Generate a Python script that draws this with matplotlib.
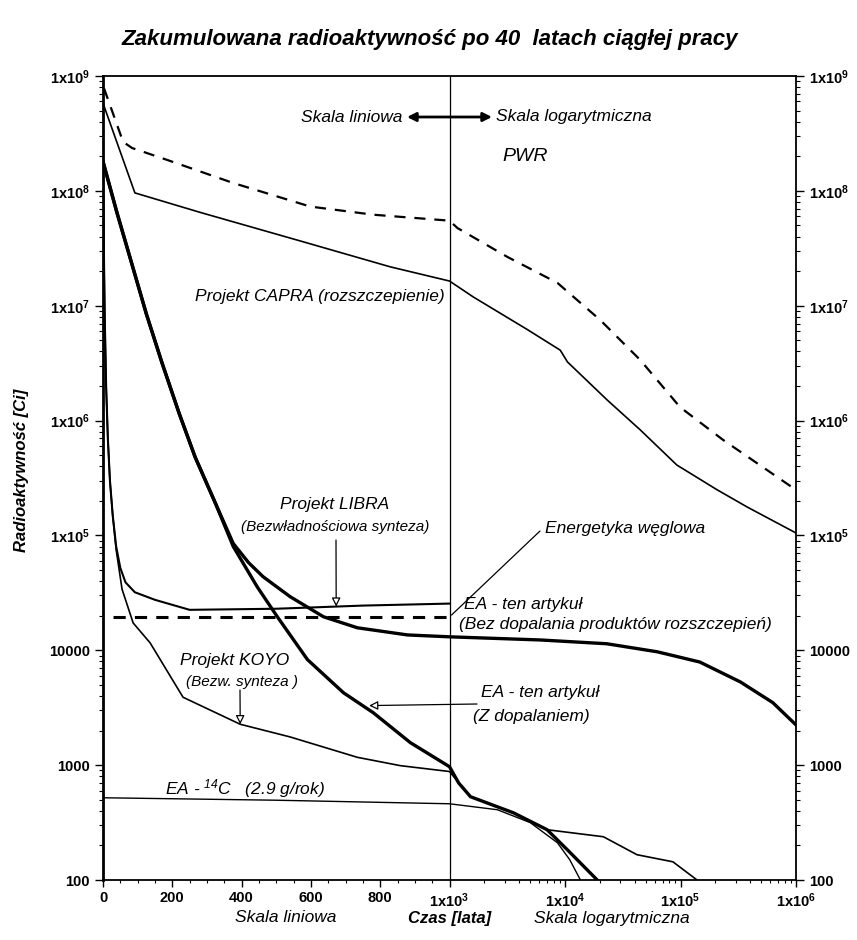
import numpy as np
import matplotlib
matplotlib.use("Agg")
import matplotlib.pyplot as plt
from matplotlib.ticker import FixedLocator, NullFormatter
from matplotlib import font_manager

plt.rcParams['font.family'] = ['Liberation Sans', 'DejaVu Sans']
plt.rcParams['mathtext.default'] = 'regular'

names = {f.name for f in font_manager.fontManager.ttflist}
NARROW = 'Liberation Sans Narrow' if 'Liberation Sans Narrow' in names else None

# ---------------- data ----------------
pwr_t = [3, 58, 84, 185, 376, 598, 780, 1000, 1170, 3170, 8600, 20200, 44800, 99000, 233000, 940000, 1000000]
pwr_v = [7.8e8, 2.67e8, 2.36e8, 1.86e8, 1.17e8, 7.3e7, 6.2e7, 5.5e7, 4.75e7, 2.66e7, 1.58e7, 7.5e6, 3.37e6, 1.31e6, 6.8e5, 2.6e5, 2.4e5]

capra_t = [0, 92, 280, 578, 829, 1000, 1610, 4720, 9100, 10500, 23200, 44800, 93000, 207000, 377000, 1000000]
capra_v = [5.8e8, 9.6e7, 6.5e7, 3.6e7, 2.18e7, 1.64e7, 1.19e7, 6.2e6, 4.1e6, 3.24e6, 1.51e6, 8.3e5, 4.1e5, 2.5e5, 1.77e5, 1.05e5]

ea_bez_t = [0, 40, 80, 125, 170, 220, 266, 324, 376, 420, 462, 540, 636, 734, 879, 1000, 6100, 23000, 63000, 147000, 330000, 630000, 1000000]
ea_bez_v = [1.8e8, 6.5e7, 2.5e7, 8.5e6, 3.2e6, 1.15e6, 4.8e5, 1.92e5, 8.5e4, 5.8e4, 4.37e4, 2.93e4, 1.96e4, 1.57e4, 1.36e4, 1.31e4, 1.23e4, 1.14e4, 9.7e3, 7.9e3, 5.3e3, 3.5e3, 2.24e3]

ea_z_t = [0, 40, 80, 125, 170, 220, 266, 324, 376, 445, 503, 590, 694, 780, 887, 1000, 1200, 1520, 3570, 7000, 11100, 19000]
ea_z_v = [1.8e8, 6.5e7, 2.5e7, 8.5e6, 3.2e6, 1.15e6, 4.8e5, 1.92e5, 8.0e4, 3.57e4, 1.96e4, 8.3e3, 4.27e3, 2.86e3, 1.57e3, 969, 700, 531, 385, 274, 173, 100]

libra_t = [0, 2, 5, 9, 14, 20, 28, 38, 50, 65, 92, 150, 250, 500, 750, 1000]
libra_v = [1.8e8, 4e7, 8e6, 2e6, 7e5, 3e5, 1.5e5, 8e4, 5.2e4, 3.9e4, 3.2e4, 2.75e4, 2.25e4, 2.3e4, 2.45e4, 2.55e4]

koyo_t = [0, 2, 5, 9, 14, 20, 28, 38, 55, 87, 136, 231, 396, 540, 734, 858, 1000, 1520, 3570, 7000, 21500, 42000, 86000, 139000]
koyo_v = [1.8e8, 4e7, 8e6, 2e6, 7e5, 3e5, 1.5e5, 7.5e4, 3.4e4, 1.73e4, 1.16e4, 3.9e3, 2.27e3, 1.76e3, 1.17e3, 990, 880, 531, 385, 274, 238, 166, 144, 100]

coal_t = [30, 1000]
coal_v = [1.95e4, 1.95e4]

c14_t = [0, 500, 1000, 2600, 5000, 8600, 11000, 13600]
c14_v = [520, 495, 461, 409, 316, 211, 150, 100]

ytick_vals = [1e2, 1e3, 1e4, 1e5, 1e6, 1e7, 1e8, 1e9]
ytick_labels = ['100', '1000', '10000', r'1x10$^{5}$', r'1x10$^{6}$', r'1x10$^{7}$', r'1x10$^{8}$', r'1x10$^{9}$']
xtick_vals = [0, 200, 400, 600, 800, 1000, 1e4, 1e5, 1e6]
xtick_labels = ['0', '200', '400', '600', '800', r'1x10$^{3}$', r'1x10$^{4}$', r'1x10$^{5}$', r'1x10$^{6}$']

# ---------------- combined linear / log scale ----------------
def fwd(x):
    x = np.asarray(x, dtype=float)
    with np.errstate(divide='ignore', invalid='ignore'):
        lg = 3.0 + np.log10(np.maximum(x, 1e-300) / 1000.0)
    return np.where(x <= 1000, 3.0 * x / 1000.0, lg)

def inv(u):
    u = np.asarray(u, dtype=float)
    return np.where(u <= 3, u * 1000.0 / 3.0, 1000.0 * 10 ** (np.minimum(u, 30) - 3.0))

W, H = 857, 940
fig = plt.figure(figsize=(W / 100, H / 100), dpi=100)
ax = fig.add_axes([103 / W, 1 - 880 / H, (796 - 103) / W, (880 - 76) / H])
ax.set_xscale('function', functions=(fwd, inv))
ax.set_yscale('log')
ax.set_xlim(0, 1e6)
ax.set_ylim(100, 1e9)

thin = 1.2
thick = 2.4
ax.plot(pwr_t, pwr_v, color='black', lw=1.6, dashes=(5, 4))
ax.plot(capra_t, capra_v, color='black', lw=thin)
ax.plot(ea_bez_t, ea_bez_v, color='black', lw=thick)
ax.plot(ea_z_t, ea_z_v, color='black', lw=thick)
ax.plot(libra_t, libra_v, color='black', lw=1.5)
ax.plot(koyo_t, koyo_v, color='black', lw=thin)
ax.plot(coal_t, coal_v, color='black', lw=2.2, dashes=(4, 3))
ax.plot(c14_t, c14_v, color='black', lw=1.0)

ax.axvline(1000, color='black', lw=0.9)

# ticks
ax.yaxis.set_major_locator(FixedLocator(ytick_vals))
ax.set_yticklabels(ytick_labels)
minor_y = [m * 10 ** e for e in range(2, 9) for m in range(2, 10)]
ax.yaxis.set_minor_locator(FixedLocator(minor_y))
ax.yaxis.set_minor_formatter(NullFormatter())
ax.xaxis.set_major_locator(FixedLocator(xtick_vals))
ax.set_xticklabels(xtick_labels)
minor_x = list(range(50, 1000, 50)) + [m * 10 ** e for e in range(3, 6) for m in range(2, 10)]
ax.xaxis.set_minor_locator(FixedLocator(minor_x))
ax.xaxis.set_minor_formatter(NullFormatter())

ax.tick_params(axis='y', which='both', left=True, right=True, labelleft=True, labelright=True,
               direction='out', labelsize=10.5)
ax.tick_params(axis='y', which='major', length=6, width=1)
ax.tick_params(axis='y', which='minor', length=3, width=0.8)
ax.tick_params(axis='x', which='major', direction='out', length=5, width=1, labelsize=10.5, pad=3)
ax.tick_params(axis='x', which='minor', direction='out', length=2.5, width=0.8)
for lab in ax.get_xticklabels() + ax.get_yticklabels():
    lab.set_fontweight('bold')
for s in ax.spines.values():
    s.set_linewidth(1.3)
ax.spines['left'].set_linewidth(2.0)

def F(px, py):
    return (px / W, 1 - py / H)

ann_family = [NARROW, 'Liberation Sans', 'DejaVu Sans'] if NARROW else ['Liberation Sans', 'DejaVu Sans']
ann_size = 14 if NARROW else 12.5
small_size = 12.5 if NARROW else 11
tkw = dict(transform=fig.transFigure, style='italic', fontsize=ann_size, family=ann_family)

fig.text(*F(430, 40), 'Zakumulowana radioaktywność po 40  latach ciągłej pracy',
         transform=fig.transFigure, ha='center', va='center', fontsize=19 if NARROW else 16,
         fontweight='bold', style='italic', family=ann_family)
fig.text(*F(22, 470), 'Radioaktywność [Ci]', transform=fig.transFigure, ha='center',
         va='center', rotation=90, fontsize=14 if NARROW else 12, fontweight='bold',
         style='italic', family=ann_family)

fig.text(*F(286, 918), 'Skala liniowa', ha='center', va='center', **tkw)
fig.text(*F(450, 918), 'Czas [lata]', transform=fig.transFigure, ha='center', va='center',
         fontsize=14 if NARROW else 12, fontweight='bold', style='italic', family=ann_family)
fig.text(*F(612, 918), 'Skala logarytmiczna', ha='center', va='center', **tkw)

fig.text(*F(402, 117), 'Skala liniowa', ha='right', va='center', **tkw)
fig.text(*F(496, 117), 'Skala logarytmiczna', ha='left', va='center', **tkw)
ax.annotate('', xy=F(407, 117), xytext=F(492, 117), xycoords='figure fraction',
            textcoords='figure fraction',
            arrowprops=dict(arrowstyle='<|-|>', color='black', lw=2.0, mutation_scale=13,
                            shrinkA=0, shrinkB=0))

fig.text(*F(502, 157), 'PWR', ha='left', va='center', transform=fig.transFigure,
         style='italic', fontsize=16 if NARROW else 14, family=ann_family)
fig.text(*F(445, 296), 'Projekt CAPRA (rozszczepienie)', ha='right', va='center', **tkw)

fig.text(*F(335, 505), 'Projekt LIBRA', ha='center', va='center', **tkw)
fig.text(*F(335, 527), '(Bezwładnościowa synteza)', ha='center', va='center',
         transform=fig.transFigure, style='italic', fontsize=small_size, family=ann_family)
ax.annotate('', xy=(673, 2.4e4), xytext=F(336, 540), xycoords='data', textcoords='figure fraction',
            arrowprops=dict(arrowstyle='-|>', fc='white', ec='black', lw=0.9, mutation_scale=13,
                            shrinkA=0, shrinkB=0))

fig.text(*F(545, 528), 'Energetyka węglowa', ha='left', va='center', **tkw)
ax.annotate('', xy=(1000, 1.95e4), xytext=F(540, 531), xycoords='data', textcoords='figure fraction',
            arrowprops=dict(arrowstyle='-', color='black', lw=0.9, shrinkA=0, shrinkB=2))

fig.text(*F(523, 605), 'EA - ten artykuł', ha='center', va='center', **tkw)
fig.text(*F(615, 625), '(Bez dopalania produktów rozszczepień)', ha='center', va='center', **tkw)

fig.text(*F(235, 660), 'Projekt KOYO', ha='center', va='center', **tkw)
fig.text(*F(242, 682), '(Bezw. synteza )', ha='center', va='center',
         transform=fig.transFigure, style='italic', fontsize=small_size, family=ann_family)
ax.annotate('', xy=(396, 2.27e3), xytext=F(240, 690), xycoords='data', textcoords='figure fraction',
            arrowprops=dict(arrowstyle='-|>', fc='white', ec='black', lw=0.9, mutation_scale=13,
                            shrinkA=0, shrinkB=0))

fig.text(*F(540, 693), 'EA - ten artykuł', ha='center', va='center', **tkw)
fig.text(*F(531, 716), '(Z dopalaniem)', ha='center', va='center', **tkw)
ax.annotate('', xy=(768, 3.3e3), xytext=F(477, 704), xycoords='data', textcoords='figure fraction',
            arrowprops=dict(arrowstyle='-|>', fc='white', ec='black', lw=0.9, mutation_scale=13,
                            shrinkA=0, shrinkB=0))

fig.text(*F(165, 789), r'EA - $^{14}$C   (2.9 g/rok)', ha='left', va='center', **tkw)

fig.savefig('out.png', dpi=100)
